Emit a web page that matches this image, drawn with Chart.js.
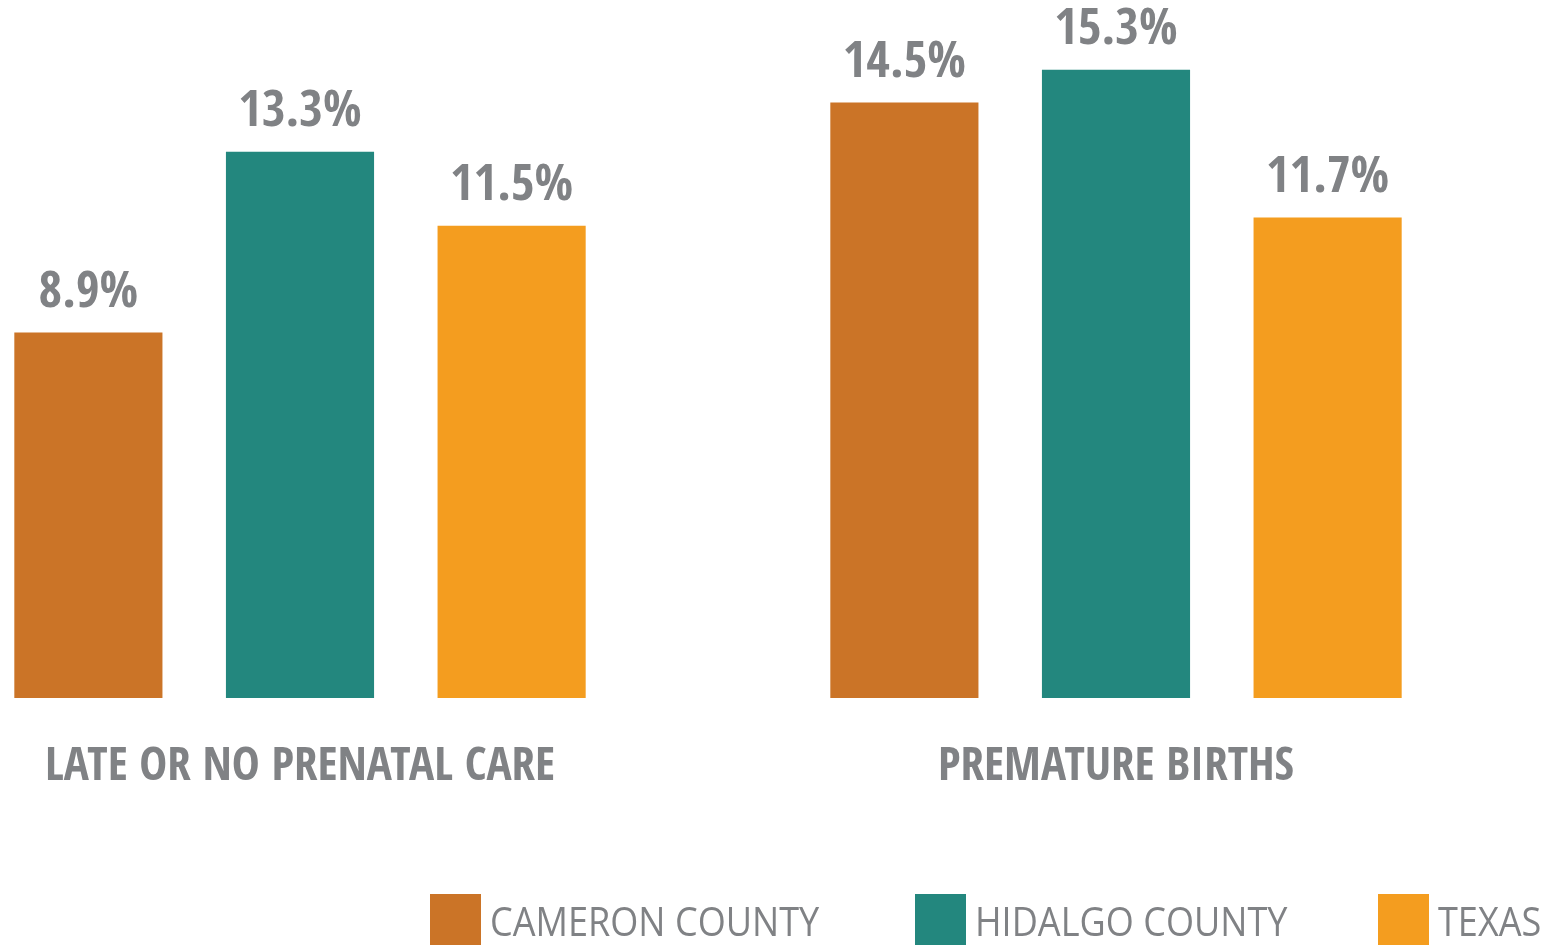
<!DOCTYPE html>
<html>
<head>
<meta charset="utf-8">
<script src="https://cdn.jsdelivr.net/npm/chart.js@4.4.1/dist/chart.umd.min.js"></script>
<style>
  html, body { margin: 0; padding: 0; background: #fff; overflow: hidden; }
  /* canvas is wider than the page and shifted left so the two groups land where the original has them */
  #chart { display: block; margin-left: -108px; }
</style>
</head>
<body>
<canvas id="chart" width="1659" height="945"></canvas>
<script>
// Chart data
const categories = ['LATE OR NO PRENATAL CARE', 'PREMATURE BIRTHS'];
const seriesNames = ['CAMERON COUNTY', 'HIDALGO COUNTY', 'TEXAS'];
const cameronValues = [8.9, 14.5];
const hidalgoValues = [13.3, 15.3];
const texasValues = [11.5, 11.7];

// Styling
const seriesColors = ['#CB7427', '#23877E', '#F49D1F'];
const TEXT_COLOR = '#808285';
const FONT = '"Open Sans Condensed", "Roboto Condensed", "Open Sans", sans-serif';
const SHIFT = 108;                  // matches the css margin-left
const LEGEND_X = [430, 915, 1378];  // page x of each legend swatch

// Percent labels above each bar
const valueLabels = {
  id: 'valueLabels',
  afterDatasetsDraw(chart) {
    const ctx = chart.ctx;
    ctx.save();
    ctx.font = 'bold 51px ' + FONT;
    ctx.fillStyle = TEXT_COLOR;
    ctx.textAlign = 'center';
    ctx.textBaseline = 'alphabetic';
    chart.data.datasets.forEach((ds, i) => {
      chart.getDatasetMeta(i).data.forEach((bar, j) => {
        ctx.fillText(ds.data[j].toFixed(1) + '%', bar.x, bar.y - 26);
      });
    });
    ctx.restore();
  }
};

// Legend row along the bottom edge (regular weight, squeezed to a condensed look)
const legendRow = {
  id: 'legendRow',
  afterDraw(chart) {
    const ctx = chart.ctx;
    chart.data.datasets.forEach((ds, i) => {
      const x = LEGEND_X[i] + SHIFT;
      ctx.save();
      ctx.fillStyle = ds.backgroundColor;
      ctx.fillRect(x, 894, 51, 51);
      ctx.fillStyle = TEXT_COLOR;
      ctx.font = 'normal 41px "Open Sans", sans-serif';
      ctx.textAlign = 'left';
      ctx.textBaseline = 'alphabetic';
      ctx.translate(x + 60, 936);
      ctx.scale(0.88, 1);
      ctx.fillText(ds.label, 0, 0);
      ctx.restore();
    });
  }
};

const datasets = [cameronValues, hidalgoValues, texasValues].map((values, i) => ({
  label: seriesNames[i],
  data: values,
  backgroundColor: seriesColors[i],
  borderWidth: 0,
  categoryPercentage: 0.778,
  barPercentage: 0.70
}));

new Chart(document.getElementById('chart'), {
  type: 'bar',
  data: { labels: categories, datasets: datasets },
  options: {
    responsive: false,
    devicePixelRatio: 1,
    animation: false,
    layout: { padding: { left: 0, right: 27, top: 41, bottom: 100 } },
    plugins: {
      legend: { display: false },
      tooltip: { enabled: false }
    },
    scales: {
      x: {
        offset: true,
        grid: { display: false, drawTicks: false },
        border: { display: false },
        ticks: {
          padding: 42,
          color: TEXT_COLOR,
          font: { family: FONT, size: 47, weight: 'bold' }
        },
        afterFit(scale) { scale.height = 147; }
      },
      y: { display: false, min: 0, max: 16 }
    }
  },
  plugins: [valueLabels, legendRow]
});
</script>
</body>
</html>
